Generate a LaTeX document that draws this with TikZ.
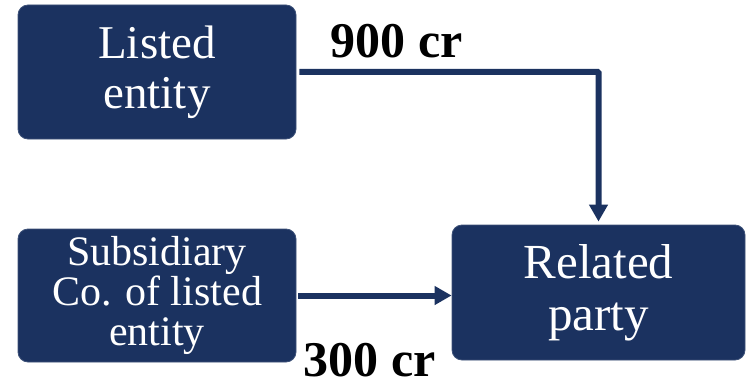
\documentclass[tikz,border=0pt]{standalone}
\usepackage{fontspec}
\setmainfont{Liberation Serif}
\usetikzlibrary{arrows.meta}
\definecolor{navy}{RGB}{27,50,96}
\tikzset{
  entity/.style={draw=navy!85!white, line width=0.8pt, fill=navy, text=white,
    rounded corners=10pt, align=center, inner sep=0pt},
  flow/.style={draw=navy, line width=6pt, -{Triangle[width=18pt,length=17pt]}},
  amount/.style={font=\bfseries\fontsize{50}{52}\selectfont, anchor=base, inner sep=0pt}
}
\begin{document}
\begin{tikzpicture}[x=1pt,y=-1pt]
  \useasboundingbox (0,0) rectangle (746,385);
  \node[entity, minimum width=278pt, minimum height=134pt,
        font=\fontsize{47}{50}\selectfont] (listed) at (157,72) {Listed\\entity};
  \node[entity, minimum width=278pt, minimum height=133pt,
        font=\fontsize{42}{40}\selectfont] (sub) at (157,295.5) {Subsidiary\\Co. of listed\\entity};
  \node[entity, minimum width=293pt, minimum height=135pt,
        font=\fontsize{49}{52}\selectfont] (rel) at (598.5,292.5) {Related\\party};
  \draw[flow, shorten <=3pt, shorten >=3pt, rounded corners=1pt]
    (listed.east) -| (rel.north);
  \draw[flow, shorten <=2pt] (sub.east) -- (sub.east -| rel.west);
  \node[amount] (big) at (396.5,58) {900 cr};
  \node[amount] (small) at (369.5,376) {300 cr};
\end{tikzpicture}
\end{document}
